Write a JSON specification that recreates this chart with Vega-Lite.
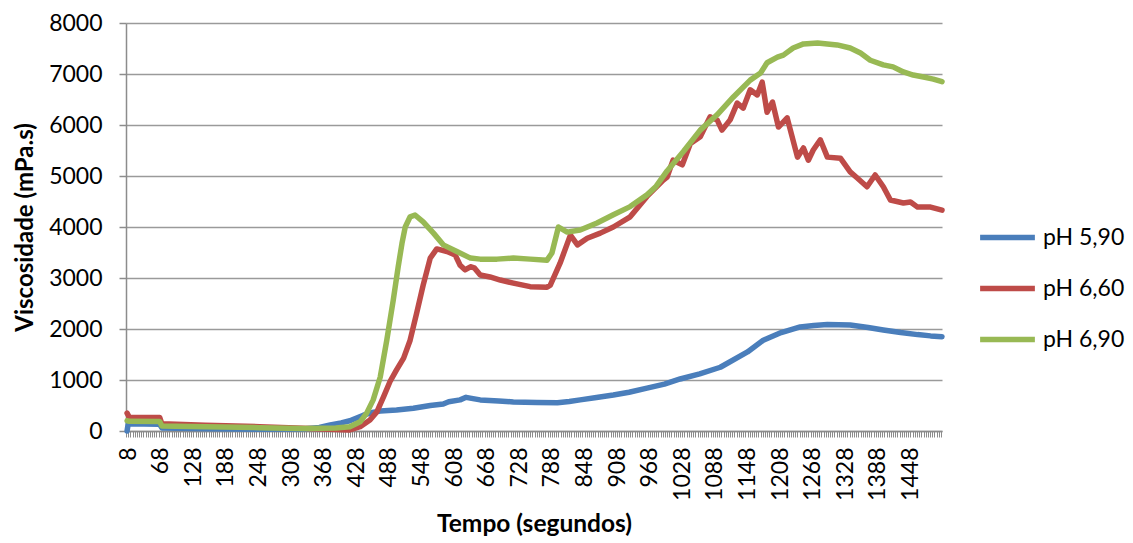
{
  "$schema": "https://vega.github.io/schema/vega-lite/v6.json",
  "width": 816,
  "height": 408,
  "autosize": {"type": "none"},
  "padding": {"left": 126, "top": 23, "right": 191, "bottom": 112},
  "background": "white",
  "config": {"view": {"stroke": null}},
  "data": {"values": [
    {"s":"pH 5,90","t":6,"v":0},{"s":"pH 5,90","t":8,"v":140},{"s":"pH 5,90","t":66,"v":130},{"s":"pH 5,90","t":70,"v":60},{"s":"pH 5,90","t":150,"v":45},{"s":"pH 5,90","t":250,"v":35},{"s":"pH 5,90","t":330,"v":40},{"s":"pH 5,90","t":360,"v":70},{"s":"pH 5,90","t":380,"v":120},{"s":"pH 5,90","t":400,"v":160},{"s":"pH 5,90","t":416,"v":200},{"s":"pH 5,90","t":441,"v":310},{"s":"pH 5,90","t":460,"v":370},{"s":"pH 5,90","t":472,"v":390},{"s":"pH 5,90","t":502,"v":410},{"s":"pH 5,90","t":533,"v":445},{"s":"pH 5,90","t":564,"v":500},{"s":"pH 5,90","t":588,"v":530},{"s":"pH 5,90","t":598,"v":575},{"s":"pH 5,90","t":619,"v":610},{"s":"pH 5,90","t":630,"v":660},{"s":"pH 5,90","t":640,"v":640},{"s":"pH 5,90","t":656,"v":610},{"s":"pH 5,90","t":690,"v":590},{"s":"pH 5,90","t":717,"v":570},{"s":"pH 5,90","t":760,"v":560},{"s":"pH 5,90","t":798,"v":555},{"s":"pH 5,90","t":820,"v":580},{"s":"pH 5,90","t":840,"v":610},{"s":"pH 5,90","t":870,"v":655},{"s":"pH 5,90","t":901,"v":705},{"s":"pH 5,90","t":930,"v":760},{"s":"pH 5,90","t":963,"v":840},{"s":"pH 5,90","t":995,"v":920},{"s":"pH 5,90","t":1024,"v":1020},{"s":"pH 5,90","t":1060,"v":1120},{"s":"pH 5,90","t":1098,"v":1250},{"s":"pH 5,90","t":1148,"v":1550},{"s":"pH 5,90","t":1177,"v":1780},{"s":"pH 5,90","t":1210,"v":1930},{"s":"pH 5,90","t":1245,"v":2040},{"s":"pH 5,90","t":1270,"v":2070},{"s":"pH 5,90","t":1295,"v":2090},{"s":"pH 5,90","t":1337,"v":2080},{"s":"pH 5,90","t":1370,"v":2030},{"s":"pH 5,90","t":1398,"v":1980},{"s":"pH 5,90","t":1430,"v":1930},{"s":"pH 5,90","t":1461,"v":1890},{"s":"pH 5,90","t":1485,"v":1865},{"s":"pH 5,90","t":1506,"v":1850},
    {"s":"pH 6,60","t":6,"v":350},{"s":"pH 6,60","t":10,"v":270},{"s":"pH 6,60","t":66,"v":265},{"s":"pH 6,60","t":70,"v":140},{"s":"pH 6,60","t":150,"v":115},{"s":"pH 6,60","t":250,"v":85},{"s":"pH 6,60","t":330,"v":55},{"s":"pH 6,60","t":390,"v":30},{"s":"pH 6,60","t":416,"v":20},{"s":"pH 6,60","t":435,"v":85},{"s":"pH 6,60","t":453,"v":215},{"s":"pH 6,60","t":466,"v":380},{"s":"pH 6,60","t":478,"v":670},{"s":"pH 6,60","t":490,"v":970},{"s":"pH 6,60","t":502,"v":1200},{"s":"pH 6,60","t":515,"v":1430},{"s":"pH 6,60","t":527,"v":1780},{"s":"pH 6,60","t":539,"v":2310},{"s":"pH 6,60","t":551,"v":2860},{"s":"pH 6,60","t":564,"v":3390},{"s":"pH 6,60","t":576,"v":3570},{"s":"pH 6,60","t":595,"v":3520},{"s":"pH 6,60","t":610,"v":3450},{"s":"pH 6,60","t":619,"v":3250},{"s":"pH 6,60","t":628,"v":3160},{"s":"pH 6,60","t":638,"v":3220},{"s":"pH 6,60","t":645,"v":3200},{"s":"pH 6,60","t":656,"v":3060},{"s":"pH 6,60","t":674,"v":3020},{"s":"pH 6,60","t":693,"v":2960},{"s":"pH 6,60","t":717,"v":2900},{"s":"pH 6,60","t":748,"v":2830},{"s":"pH 6,60","t":779,"v":2820},{"s":"pH 6,60","t":785,"v":2860},{"s":"pH 6,60","t":803,"v":3290},{"s":"pH 6,60","t":822,"v":3840},{"s":"pH 6,60","t":835,"v":3650},{"s":"pH 6,60","t":853,"v":3780},{"s":"pH 6,60","t":877,"v":3880},{"s":"pH 6,60","t":901,"v":4000},{"s":"pH 6,60","t":932,"v":4200},{"s":"pH 6,60","t":963,"v":4600},{"s":"pH 6,60","t":993,"v":4920},{"s":"pH 6,60","t":1000,"v":4980},{"s":"pH 6,60","t":1011,"v":5310},{"s":"pH 6,60","t":1028,"v":5220},{"s":"pH 6,60","t":1043,"v":5640},{"s":"pH 6,60","t":1061,"v":5770},{"s":"pH 6,60","t":1079,"v":6160},{"s":"pH 6,60","t":1092,"v":6100},{"s":"pH 6,60","t":1101,"v":5900},{"s":"pH 6,60","t":1116,"v":6100},{"s":"pH 6,60","t":1129,"v":6430},{"s":"pH 6,60","t":1140,"v":6330},{"s":"pH 6,60","t":1153,"v":6690},{"s":"pH 6,60","t":1166,"v":6590},{"s":"pH 6,60","t":1175,"v":6840},{"s":"pH 6,60","t":1184,"v":6250},{"s":"pH 6,60","t":1194,"v":6450},{"s":"pH 6,60","t":1205,"v":5960},{"s":"pH 6,60","t":1221,"v":6140},{"s":"pH 6,60","t":1240,"v":5370},{"s":"pH 6,60","t":1251,"v":5550},{"s":"pH 6,60","t":1260,"v":5310},{"s":"pH 6,60","t":1269,"v":5510},{"s":"pH 6,60","t":1282,"v":5710},{"s":"pH 6,60","t":1295,"v":5370},{"s":"pH 6,60","t":1319,"v":5350},{"s":"pH 6,60","t":1337,"v":5080},{"s":"pH 6,60","t":1350,"v":4960},{"s":"pH 6,60","t":1368,"v":4790},{"s":"pH 6,60","t":1383,"v":5020},{"s":"pH 6,60","t":1398,"v":4790},{"s":"pH 6,60","t":1411,"v":4530},{"s":"pH 6,60","t":1435,"v":4470},{"s":"pH 6,60","t":1448,"v":4490},{"s":"pH 6,60","t":1461,"v":4390},{"s":"pH 6,60","t":1485,"v":4390},{"s":"pH 6,60","t":1506,"v":4330},
    {"s":"pH 6,90","t":6,"v":200},{"s":"pH 6,90","t":10,"v":190},{"s":"pH 6,90","t":66,"v":185},{"s":"pH 6,90","t":70,"v":100},{"s":"pH 6,90","t":150,"v":85},{"s":"pH 6,90","t":250,"v":65},{"s":"pH 6,90","t":330,"v":50},{"s":"pH 6,90","t":390,"v":60},{"s":"pH 6,90","t":416,"v":85},{"s":"pH 6,90","t":435,"v":180},{"s":"pH 6,90","t":447,"v":350},{"s":"pH 6,90","t":459,"v":610},{"s":"pH 6,90","t":472,"v":1060},{"s":"pH 6,90","t":484,"v":1780},{"s":"pH 6,90","t":496,"v":2570},{"s":"pH 6,90","t":505,"v":3220},{"s":"pH 6,90","t":512,"v":3680},{"s":"pH 6,90","t":518,"v":4000},{"s":"pH 6,90","t":527,"v":4200},{"s":"pH 6,90","t":536,"v":4235},{"s":"pH 6,90","t":551,"v":4100},{"s":"pH 6,90","t":570,"v":3880},{"s":"pH 6,90","t":588,"v":3650},{"s":"pH 6,90","t":613,"v":3520},{"s":"pH 6,90","t":638,"v":3390},{"s":"pH 6,90","t":656,"v":3370},{"s":"pH 6,90","t":687,"v":3370},{"s":"pH 6,90","t":717,"v":3390},{"s":"pH 6,90","t":748,"v":3370},{"s":"pH 6,90","t":779,"v":3350},{"s":"pH 6,90","t":788,"v":3490},{"s":"pH 6,90","t":800,"v":4000},{"s":"pH 6,90","t":816,"v":3900},{"s":"pH 6,90","t":840,"v":3940},{"s":"pH 6,90","t":871,"v":4080},{"s":"pH 6,90","t":901,"v":4240},{"s":"pH 6,90","t":932,"v":4400},{"s":"pH 6,90","t":963,"v":4630},{"s":"pH 6,90","t":980,"v":4800},{"s":"pH 6,90","t":1000,"v":5100},{"s":"pH 6,90","t":1030,"v":5480},{"s":"pH 6,90","t":1061,"v":5900},{"s":"pH 6,90","t":1092,"v":6200},{"s":"pH 6,90","t":1122,"v":6550},{"s":"pH 6,90","t":1153,"v":6880},{"s":"pH 6,90","t":1172,"v":7020},{"s":"pH 6,90","t":1184,"v":7220},{"s":"pH 6,90","t":1203,"v":7330},{"s":"pH 6,90","t":1214,"v":7370},{"s":"pH 6,90","t":1232,"v":7510},{"s":"pH 6,90","t":1251,"v":7590},{"s":"pH 6,90","t":1277,"v":7610},{"s":"pH 6,90","t":1295,"v":7590},{"s":"pH 6,90","t":1313,"v":7570},{"s":"pH 6,90","t":1337,"v":7510},{"s":"pH 6,90","t":1356,"v":7410},{"s":"pH 6,90","t":1374,"v":7270},{"s":"pH 6,90","t":1398,"v":7180},{"s":"pH 6,90","t":1416,"v":7140},{"s":"pH 6,90","t":1435,"v":7040},{"s":"pH 6,90","t":1453,"v":6980},{"s":"pH 6,90","t":1472,"v":6940},{"s":"pH 6,90","t":1490,"v":6900},{"s":"pH 6,90","t":1506,"v":6850}
  ]},
  "mark": {"type": "line", "strokeWidth": 5.5, "strokeCap": "round", "strokeJoin": "round"},
  "encoding": {
    "x": {
      "field": "t", "type": "quantitative",
      "scale": {"domain": [4, 1506], "nice": false, "zero": false},
      "axis": {
        "values": [4,8,12,16,20,24,28,32,36,40,44,48,52,56,60,64,68,72,76,80,84,88,92,96,100,104,108,112,116,120,124,128,132,136,140,144,148,152,156,160,164,168,172,176,180,184,188,192,196,200,204,208,212,216,220,224,228,232,236,240,244,248,252,256,260,264,268,272,276,280,284,288,292,296,300,304,308,312,316,320,324,328,332,336,340,344,348,352,356,360,364,368,372,376,380,384,388,392,396,400,404,408,412,416,420,424,428,432,436,440,444,448,452,456,460,464,468,472,476,480,484,488,492,496,500,504,508,512,516,520,524,528,532,536,540,544,548,552,556,560,564,568,572,576,580,584,588,592,596,600,604,608,612,616,620,624,628,632,636,640,644,648,652,656,660,664,668,672,676,680,684,688,692,696,700,704,708,712,716,720,724,728,732,736,740,744,748,752,756,760,764,768,772,776,780,784,788,792,796,800,804,808,812,816,820,824,828,832,836,840,844,848,852,856,860,864,868,872,876,880,884,888,892,896,900,904,908,912,916,920,924,928,932,936,940,944,948,952,956,960,964,968,972,976,980,984,988,992,996,1000,1004,1008,1012,1016,1020,1024,1028,1032,1036,1040,1044,1048,1052,1056,1060,1064,1068,1072,1076,1080,1084,1088,1092,1096,1100,1104,1108,1112,1116,1120,1124,1128,1132,1136,1140,1144,1148,1152,1156,1160,1164,1168,1172,1176,1180,1184,1188,1192,1196,1200,1204,1208,1212,1216,1220,1224,1228,1232,1236,1240,1244,1248,1252,1256,1260,1264,1268,1272,1276,1280,1284,1288,1292,1296,1300,1304,1308,1312,1316,1320,1324,1328,1332,1336,1340,1344,1348,1352,1356,1360,1364,1368,1372,1376,1380,1384,1388,1392,1396,1400,1404,1408,1412,1416,1420,1424,1428,1432,1436,1440,1444,1448,1452,1456,1460,1464,1468,1472,1476,1480,1484,1488,1492,1496,1500,1504],
        "format": "d",
        "labelExpr": "(datum.value - 8) % 60 === 0 ? datum.label : ''",
        "labelAngle": 270,
        "labelOverlap": false,
        "labelFlush": false,
        "labelBound": false,
        "labelFont": "Lato",
        "labelFontSize": 23,
        "labelColor": "#000000",
        "labelPadding": 10,
        "tickSize": 6,
        "tickColor": "#8c8c8c",
        "tickWidth": 1,
        "domainColor": "#8c8c8c",
        "domainWidth": 1.5,
        "grid": false,
        "title": "Tempo (segundos)",
        "titleFont": "Lato",
        "titleFontSize": 24.5,
        "titleFontWeight": "bold",
        "titleColor": "#000000",
        "titlePadding": 12
      }
    },
    "y": {
      "field": "v", "type": "quantitative",
      "scale": {"domain": [0, 8000], "nice": false},
      "axis": {
        "values": [0,1000,2000,3000,4000,5000,6000,7000,8000],
        "format": "d",
        "labelFont": "Lato",
        "labelFontSize": 23,
        "labelColor": "#000000",
        "labelPadding": 17,
        "tickSize": 7,
        "tickColor": "#8c8c8c",
        "tickWidth": 1.5,
        "domainColor": "#8c8c8c",
        "domainWidth": 1.5,
        "gridColor": "#9a9a9a",
        "gridWidth": 1.5,
        "title": "Viscosidade (mPa.s)",
        "titleFont": "Lato",
        "titleFontSize": 24,
        "titleFontWeight": "bold",
        "titleColor": "#000000",
        "titlePadding": 11
      }
    },
    "color": {
      "field": "s", "type": "nominal",
      "scale": {"domain": ["pH 5,90","pH 6,60","pH 6,90"], "range": ["#4A7EBB","#BE4B48","#98B954"]},
      "legend": {
        "title": null,
        "orient": "none",
        "legendX": 851,
        "legendY": 184,
        "padding": 0,
        "symbolType": "stroke",
        "symbolSize": 3000,
        "symbolStrokeWidth": 5.5,
        "labelFont": "Lato",
        "labelFontSize": 23,
        "labelColor": "#000000",
        "labelOffset": 5,
        "rowPadding": 8
      }
    }
  }
}
